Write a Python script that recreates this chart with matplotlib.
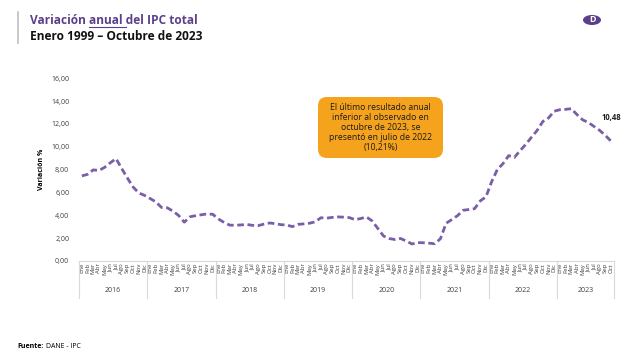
import matplotlib
matplotlib.use("Agg")
import matplotlib.pyplot as plt
from matplotlib.patches import FancyBboxPatch, Circle
from matplotlib.lines import Line2D
import matplotlib.transforms as mtransforms
import numpy as np

# ---- data ----
years = ["2016", "2017", "2018", "2019", "2020", "2021", "2022", "2023"]
months_per_year = [12, 12, 12, 12, 12, 12, 12, 10]
month_names = ["Ene", "Feb", "Mar", "Abr", "May", "Jun", "Jul", "Ago", "Sep", "Oct", "Nov", "Dic"]
ipc_2016 = [7.45, 7.59, 7.98, 7.93, 8.20, 8.60, 8.97, 8.10, 7.27, 6.48, 5.96, 5.75]
ipc_2017 = [5.47, 5.18, 4.69, 4.66, 4.37, 3.99, 3.40, 3.87, 3.97, 4.05, 4.12, 4.09]
ipc_2018 = [3.68, 3.37, 3.14, 3.13, 3.16, 3.20, 3.12, 3.10, 3.23, 3.33, 3.27, 3.18]
ipc_2019 = [3.15, 3.01, 3.21, 3.25, 3.31, 3.43, 3.79, 3.75, 3.82, 3.86, 3.84, 3.80]
ipc_2020 = [3.62, 3.72, 3.86, 3.51, 2.85, 2.19, 1.97, 1.88, 1.97, 1.75, 1.49, 1.61]
ipc_2021 = [1.60, 1.56, 1.51, 1.95, 3.30, 3.63, 3.97, 4.44, 4.51, 4.58, 5.26, 5.62]
ipc_2022 = [6.94, 8.01, 8.53, 9.23, 9.07, 9.67, 10.21, 10.84, 11.44, 12.22, 12.53, 13.12]
ipc_2023 = [13.25, 13.28, 13.34, 12.82, 12.36, 12.13, 11.78, 11.43, 10.99, 10.48]
yticks = [0, 2, 4, 6, 8, 10, 12, 14, 16]
last_label = "10,48"
annot_text = "El último resultado anual\ninferior al observado en\noctubre de 2023, se\npresentó en julio de 2022\n(10,21%)"

values = ipc_2016 + ipc_2017 + ipc_2018 + ipc_2019 + ipc_2020 + ipc_2021 + ipc_2022 + ipc_2023
labels = []
for n in months_per_year:
    labels += month_names[:n]
n = len(values)
x = np.arange(n) + 0.5

PURPLE = "#7a5ea8"
TITLE_PURPLE = "#5c3f8a"
FONT = "Open Sans"
TFS = 8.6

W, H = 640, 357
fig = plt.figure(figsize=(W / 100, H / 100), dpi=100)
fig.patch.set_facecolor("white")

def fx(px):
    return px / W

def fy(py):
    return 1 - py / H

ax_left, ax_right, ax_top, ax_bot = 79, 614, 78.3, 261
ax = fig.add_axes([fx(ax_left), fy(ax_bot), fx(ax_right - ax_left), (ax_bot - ax_top) / H])
ax.plot(x, values, color=PURPLE, lw=2.0, ls=(0, (2.4, 1.3)), solid_capstyle="butt", dash_capstyle="butt")
ax.set_xlim(0, n)
ax.set_ylim(0, 16)
ax.set_yticks(yticks)
ax.set_yticklabels([f"{v:.2f}".replace(".", ",") for v in yticks], fontsize=5, color="#404040", family=FONT)
ax.tick_params(axis="y", length=0, pad=7)
ax.set_xticks(x)
ax.set_xticklabels(labels, rotation=90, fontsize=4.3, color="#404040", family=FONT, va="top")
ax.tick_params(axis="x", length=0, pad=1.5)
for s in ["top", "right", "left"]:
    ax.spines[s].set_visible(False)
ax.spines["bottom"].set_color("#d9d9d9")
ax.spines["bottom"].set_linewidth(0.8)
ax.set_ylabel("Variación %", fontsize=5, fontweight="bold", family=FONT, labelpad=4)

# year group separators and labels
trans = mtransforms.blended_transform_factory(ax.transData, ax.transAxes)
depth = (298 - ax_bot) / (ax_bot - ax_top)
bounds = np.concatenate([[0], np.cumsum(months_per_year)])
for b in bounds:
    ax.add_line(Line2D([b, b], [0, -depth], transform=trans, color="#d9d9d9", lw=0.8, clip_on=False))
ylab = -(291 - ax_bot) / (ax_bot - ax_top)
for i, yr in enumerate(years):
    ax.text((bounds[i] + bounds[i + 1]) / 2, ylab, yr, transform=trans, ha="center", va="center",
            fontsize=5, color="#404040", family=FONT)

# last value label
ax.annotate(last_label, (x[-1], values[-1]), xytext=(0, 14), textcoords="offset points",
            ha="center", va="bottom", fontsize=5.5, fontweight="bold", family=FONT, color="#202020")

# annotation box
bx0, bx1, by0, by1 = 318, 443, 97, 158
box = FancyBboxPatch((fx(bx0), fy(by1)), fx(bx1 - bx0), (by1 - by0) / H,
                     boxstyle="round,pad=0,rounding_size=0.014", transform=fig.transFigure,
                     facecolor="#f5a31d", edgecolor="none", mutation_aspect=W / H)
fig.patches.append(box)
fig.text(fx((bx0 + bx1) / 2), fy((by0 + by1) / 2), annot_text, ha="center", va="center",
         fontsize=6.2, family=FONT, color="#1a1a1a", linespacing=1.15)

# title
fig.add_artist(Line2D([fx(18), fx(18)], [fy(12), fy(43)], color="#bfbfbf", lw=1.2))
fig.text(fx(30), fy(21), "Variación anual del IPC total", fontsize=TFS, fontweight="bold",
         family=FONT, color=TITLE_PURPLE, va="center")
fig.text(fx(30), fy(36), "Enero 1999 – Octubre de 2023", fontsize=TFS, fontweight="bold",
         family=FONT, color="#111111", va="center")
fig.canvas.draw()
r = fig.canvas.get_renderer()

def width_of(s, size, weight):
    t = fig.text(0, 0, s, fontsize=size, fontweight=weight, family=FONT)
    w = t.get_window_extent(r).width
    t.remove()
    return w

w0 = width_of("Variación", TFS, "bold")
w1 = width_of("Variación anual ", TFS, "bold")
wsp = width_of("Variación ", TFS, "bold") - w0
start = 30 + w0 + wsp
fig.add_artist(Line2D([fx(start), fx(30 + w1)], [fy(27.2), fy(27.2)], color=TITLE_PURPLE, lw=0.8))

# logo
fig.patches.append(Circle((fx(592), fy(20)), radius=fx(9), transform=fig.transFigure,
                          facecolor="#5c3f8a", edgecolor="none"))
fig.text(fx(592), fy(20), "D", ha="center", va="center", fontsize=6.5, fontweight="bold",
         color="white", family=FONT)

# source
fig.text(fx(17), fy(346), "Fuente:", fontsize=5, fontweight="bold", family=FONT, va="center")
wf = width_of("Fuente: ", 5, "bold")
fig.text(fx(17 + wf + 1), fy(346), "DANE - IPC", fontsize=5, family=FONT, va="center")

fig.savefig("out.png", dpi=100, facecolor="white")
